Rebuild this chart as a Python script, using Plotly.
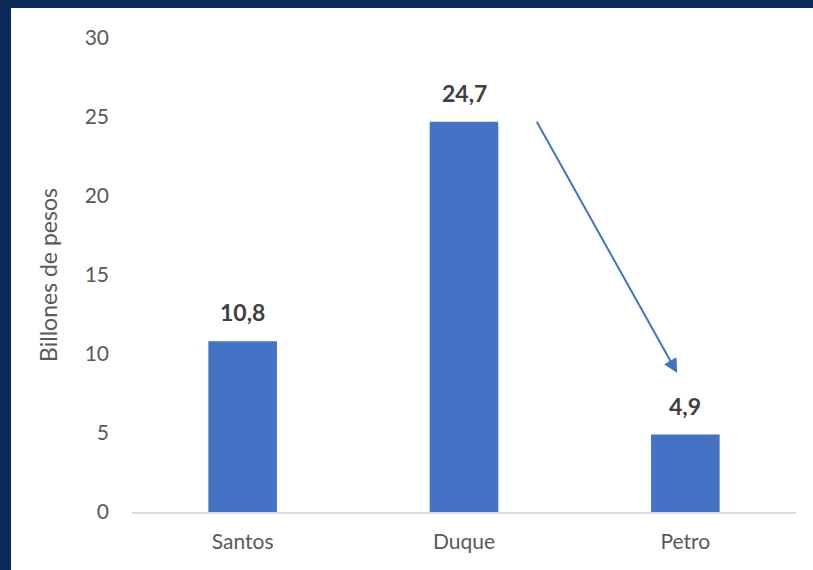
import plotly.graph_objects as go

categories = ["Santos", "Duque", "Petro"]
values = [10.8, 24.7, 4.9]
label_texts = ["10,8", "24,7", "4,9"]
y_ticks = [0, 5, 10, 15, 20, 25, 30]

arrow_start = (1.325, 24.8)
arrow_end = (1.963, 8.8)

BAR = "#4472C4"
GRAY = "#595959"
FONT = "Lato, Noto Sans, sans-serif"

fig = go.Figure()
fig.add_trace(go.Bar(x=[0, 1, 2], y=values, marker=dict(color=BAR, line=dict(width=0)),
                     width=0.31, hoverinfo="skip"))

for i, (v, t) in enumerate(zip(values, label_texts)):
    fig.add_annotation(x=i, y=v, text="<b>%s</b>" % t, showarrow=False, xref="x", yref="y",
                       yanchor="bottom", yshift=13, font=dict(family=FONT, size=23, color="#404040"))

fig.add_annotation(x=arrow_end[0], y=arrow_end[1], ax=arrow_start[0], ay=arrow_start[1],
                   xref="x", yref="y", axref="x", ayref="y", text="", showarrow=True,
                   arrowhead=2, arrowsize=1.4, arrowwidth=2, arrowcolor=BAR, standoff=0)

W, H = 813, 570
L, R, T, B = 132, 17, 38, 58
pw = W - L - R
ph = H - T - B
def px(xp):
    return (xp - L) / pw
def py(yp):
    return (H - B - yp) / ph

NAVY = "#0c2a5a"
fig.add_shape(type="rect", xref="paper", yref="paper", x0=px(-5), x1=px(11), y0=py(H + 5), y1=py(-5),
              fillcolor=NAVY, line=dict(width=0), layer="above")
fig.add_shape(type="rect", xref="paper", yref="paper", x0=px(-5), x1=px(W + 5), y0=py(8), y1=py(-5),
              fillcolor=NAVY, line=dict(width=0), layer="above")

fig.update_layout(
    width=W, height=H,
    margin=dict(l=L, r=R, t=T, b=B),
    paper_bgcolor="white", plot_bgcolor="white",
    showlegend=False,
    separators=",.",
    font=dict(family=FONT, color=GRAY, size=21),
    xaxis=dict(range=[-0.5, 2.5], tickmode="array", tickvals=[0, 1, 2], ticktext=categories,
               showgrid=False, zeroline=False, showline=True, linecolor="#d9d9d9", linewidth=1.5,
               ticks="", tickfont=dict(size=21, color=GRAY), ticklabelstandoff=10, fixedrange=True),
    yaxis=dict(range=[0, 30], tickmode="array", tickvals=y_ticks, showgrid=False, zeroline=False,
               showline=False, ticks="", tickfont=dict(size=21, color=GRAY), ticklabelstandoff=22,
               title=dict(text="Billones de pesos", font=dict(size=23, color=GRAY), standoff=20),
               fixedrange=True),
)

fig.write_html("out.html", config={"displayModeBar": False},
               post_script="document.body.style.margin='0';document.body.style.overflow='hidden';")
